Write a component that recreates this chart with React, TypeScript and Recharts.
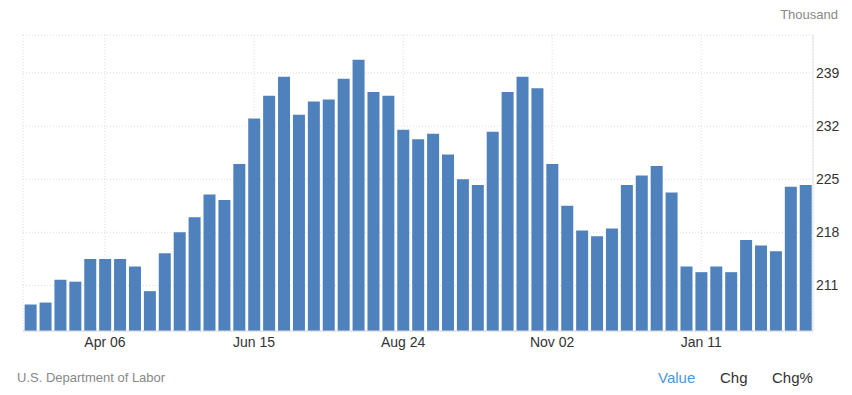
import { BarChart, Bar, XAxis, YAxis, CartesianGrid } from 'recharts'

// week ending dates, Mar 02 .. Feb 29
const semanas = [
  'Mar 02', 'Mar 09', 'Mar 16', 'Mar 23', 'Mar 30', 'Apr 06', 'Apr 13', 'Apr 20', 'Apr 27',
  'May 04', 'May 11', 'May 18', 'May 25', 'Jun 01', 'Jun 08', 'Jun 15', 'Jun 22', 'Jun 29',
  'Jul 06', 'Jul 13', 'Jul 20', 'Jul 27', 'Aug 03', 'Aug 10', 'Aug 17', 'Aug 24', 'Aug 31',
  'Sep 07', 'Sep 14', 'Sep 21', 'Sep 28', 'Oct 05', 'Oct 12', 'Oct 19', 'Oct 26', 'Nov 02',
  'Nov 09', 'Nov 16', 'Nov 23', 'Nov 30', 'Dec 07', 'Dec 14', 'Dec 21', 'Dec 28', 'Jan 04',
  'Jan 11', 'Jan 18', 'Jan 25', 'Feb 01', 'Feb 08', 'Feb 15', 'Feb 22', 'Feb 29',
]

// thousand
const valores = [
  208.5, 208.75, 211.75, 211.5, 214.5, 214.5, 214.5, 213.5, 210.25, 215.25, 218, 220, 223,
  222.25, 227, 233, 236, 238.5, 233.5, 235.25, 235.5, 238.25, 240.75, 236.5, 236, 231.5,
  230.25, 231, 228.25, 225, 224.25, 231.25, 236.5, 238.5, 237, 227, 221.5, 218.25, 217.5,
  218.5, 224.25, 225.5, 226.75, 223.25, 213.5, 212.75, 213.5, 212.75, 217, 216.25, 215.5,
  224, 224.25,
]

const ticksX = ['Apr 06', 'Jun 15', 'Aug 24', 'Nov 02', 'Jan 11']
const ticksY = [211, 218, 225, 232, 239]

const data = semanas.map((s, i) => ({ semana: s, valor: valores[i] }))

const fuente = 'Arial, "Liberation Sans", sans-serif'

export default function App() {
  return (
    <div style={{ position: 'absolute', left: 0, top: 0, width: 852, height: 395, background: '#fff', fontFamily: fuente }}>
      <BarChart
        width={852}
        height={395}
        data={data}
        margin={{ top: 35, right: 0, bottom: 44, left: 23 }}
        barCategoryGap="11%"
      >
        <CartesianGrid stroke="#dcdcdc" strokeDasharray="1 2" />
        <XAxis
          dataKey="semana"
          ticks={ticksX}
          interval={0}
          tickLine={false}
          tickSize={4}
          axisLine={{ stroke: '#d8d8d8' }}
          tick={{ fill: '#333', fontSize: 14, fontFamily: fuente }}
          height={20}
        />
        <YAxis
          orientation="right"
          domain={[205, 244]}
          ticks={ticksY}
          interval={0}
          tickLine={false}
          tickSize={2}
          tickMargin={1}
          axisLine={{ stroke: '#e3e3e3' }}
          tick={{ fill: '#333', fontSize: 14, fontFamily: fuente }}
          width={39}
        />
        <Bar dataKey="valor" fill="#4f81bd" isAnimationActive={false} />
      </BarChart>
      <div style={{ position: 'absolute', right: 14, top: 7, fontSize: 13, color: '#888' }}>Thousand</div>
      <div style={{ position: 'absolute', left: 17, top: 370, fontSize: 13, color: '#888' }}>U.S. Department of Labor</div>
      <div style={{ position: 'absolute', left: 658, top: 369, fontSize: 15, color: '#4a98dc' }}>Value</div>
      <div style={{ position: 'absolute', left: 720, top: 369, fontSize: 15, color: '#333' }}>Chg</div>
      <div style={{ position: 'absolute', left: 772, top: 369, fontSize: 15, color: '#333' }}>Chg%</div>
    </div>
  )
}
